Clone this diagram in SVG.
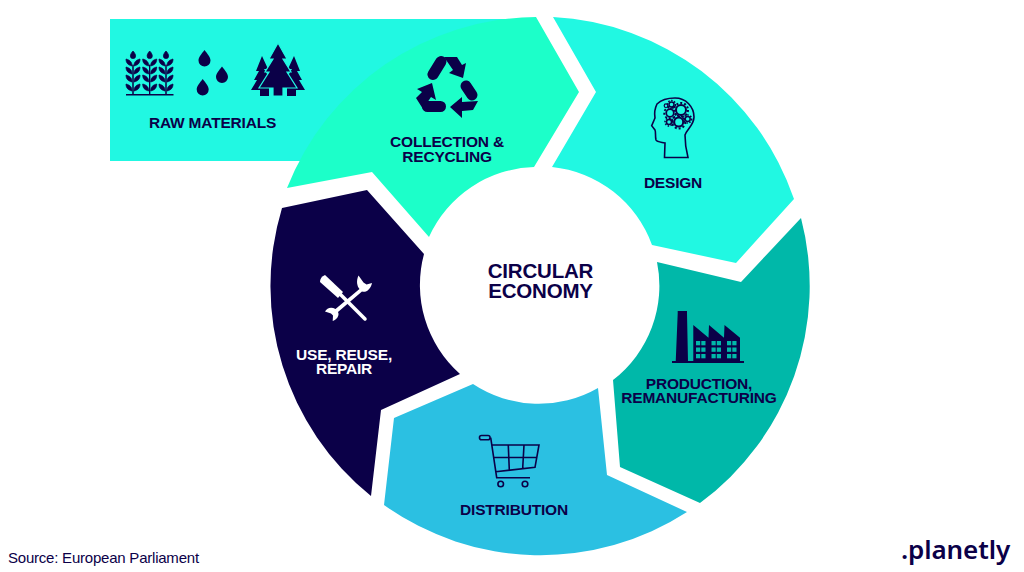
<svg xmlns="http://www.w3.org/2000/svg" xmlns:xlink="http://www.w3.org/1999/xlink" width="1024" height="572" viewBox="0 0 1024 572">
<style>
text{font-family:"Liberation Sans",Arial,sans-serif;font-weight:700;font-size:15.500px;fill:#0b0048;text-anchor:middle;letter-spacing:-.2px}
.w{fill:#fff}
.i{fill:#0b0048}
.l{fill:none;stroke:#0b0048;stroke-width:1.600}
</style>
<defs>
<g id="stalk" class="i" stroke="#0b0048" stroke-width=".7">
<path d="M0 0C2 2 2.600 4 2.600 5A2.600 2.600 0 0 1-2.600 5C-2.600 4 -2 2 0 0Z"/>
<path id="lf" d="M1 15C1 11 3 9 7 8C7 12 5 14 1 15Z"/>
<path d="M-1 15C-1 11-3 9-7 8C-7 12-5 14-1 15Z"/>
<use xlink:href="#lf" href="#lf" y="8"/><use xlink:href="#lf" href="#lf" y="16"/><use xlink:href="#lf" href="#lf" y="25"/>
<path d="M-1 23C-1 19-3 17-7 16C-7 20-5 22-1 23ZM-1 31C-1 27-3 25-7 24C-7 28-5 30-1 31ZM-1 40C-1 36-3 34-7 33C-7 37-5 39-1 40Z"/>
<rect x="-.3" y="14" width=".6" height="29"/>
</g>
<path id="drop" d="M0 0C3 4 6 7 6 10.500A6 6 0 0 1-6 10.500C-6 7-3 4 0 0Z"/>
<g id="window" fill="#00b8a9">
<rect x="0" y="0" width="4.200" height="4.300"/><rect x="5.300" y="0" width="4.200" height="4.300"/>
<rect x="0" y="6.500" width="4.200" height="4.300"/><rect x="5.300" y="6.500" width="4.200" height="4.300"/>
<rect x="0" y="13" width="4.200" height="4.300"/><rect x="5.300" y="13" width="4.200" height="4.300"/>
</g>
</defs>
<g id="raw-materials">
<rect x="110" y="19" width="400" height="142" fill="#21f8e2"/>
<use xlink:href="#stalk" href="#stalk" x="133" y="51"/>
<use xlink:href="#stalk" href="#stalk" x="149.700" y="51"/>
<use xlink:href="#stalk" href="#stalk" x="166" y="51"/>
<rect x="126" y="94" width="47.500" height="1.500" class="i"/>
<use xlink:href="#drop" href="#drop" x="204.500" y="50" class="i"/>
<use xlink:href="#drop" href="#drop" x="222" y="66.500" class="i"/>
<use xlink:href="#drop" href="#drop" x="202.700" y="79" class="i"/>
<path class="i" d="M262 56L268 69 264 69 270 79 266 87 269 87 269 96 260 96 260 90 251 90 257 80 254 80 259 71 256 71ZM294 56L300 71 297 71 302 80 299 80 305 90 296 90 296 96 287 96 287 87 290 87 286 79 292 69 288 69Z"/>
<path class="i" d="M278 43L287 59 283 59 291 72 287 72 297 88 283 88 283 96 273 96 273 88 259 88 269 72 265 72 273 59 269 59Z" stroke="#21f8e2" stroke-width="1.200"/>
<text x="212.500" y="128">RAW MATERIALS</text>
</g>
<g id="connectors"></g>
<g id="collection-recycling">
<path fill="#1cffc9" d="M287 188A269.500 269.500 0 0 1 536 17L579 92 534 167A119 119 0 0 0 429 237L372 172Z"/>
<path class="i" d="M444 57L457 57 462 65 466 63 463 78 449 73 453 70ZM478 101L473 110 462 111 462 118 450 107 462 97 462 102ZM416 98L423 109 431 97 436 100 432 83 417 89 422 92Z"/>
<path fill="none" stroke="#0b0048" stroke-width="11" stroke-linecap="round" d="M441 61.500L433 74.500M466 86L472 95M427.500 106.500L440.500 106.500"/>
<text><tspan x="447" y="147">COLLECTION &amp;</tspan><tspan x="447" y="161.500">RECYCLING</tspan></text>
</g>
<g id="design">
<path fill="#21f8e2" d="M553 17A269.500 269.500 0 0 1 794 199L736 263 652 245A119 119 0 0 0 552 167L596 92Z"/>
<path class="l" d="M664.500 157.500L665 143C660 142 657 142 656 140C655 136 656 132 655 130L651.700 125.700L655 118C654 112 655 108 657 104C661 100 668 98 675 98C686 98 694 107 694 117C694 125 687 129 685 135C685 142 686 150 688 157.500Z"/>
<g fill="none" stroke="#0b0048">
<circle cx="681" cy="110" r="5" stroke-width="2"/><circle cx="681" cy="110" r="7" stroke-width="2" stroke-dasharray="2 2"/>
<circle cx="670" cy="113" r="3.800" stroke-width="1.800"/><circle cx="670" cy="113" r="5.800" stroke-width="1.800" stroke-dasharray="2 2"/>
<circle cx="678.700" cy="122" r="4.500" stroke-width="2"/><circle cx="678.700" cy="122" r="6.500" stroke-width="2" stroke-dasharray="2 2"/>
<circle cx="671.500" cy="104.500" r="2.500" stroke-width="1.500"/><circle cx="671.500" cy="104.500" r="4" stroke-width="1.500" stroke-dasharray="1.500 1.500"/>
<circle cx="666" cy="105.700" r="1.800" stroke-width="1.200"/>
<circle cx="669" cy="122" r="2.500" stroke-width="1.500"/><circle cx="669" cy="122" r="4" stroke-width="1.500" stroke-dasharray="1.500 1.500"/>
<circle cx="687.700" cy="119" r="2.500" stroke-width="1.500"/><circle cx="687.700" cy="119" r="4" stroke-width="1.500" stroke-dasharray="1.500 1.500"/>
</g>
<text x="673" y="187.500">DESIGN</text>
</g>
<g id="production">
<path fill="#00b8a9" d="M801 218A269.500 269.500 0 0 1 700 503L620 467 613 380A119 119 0 0 0 657 262L741 282Z"/>
<path class="i" d="M677.700 311L687 311 687 313.500 688 361.700 675.700 361.700 677.700 313.500ZM672 361L744 361 744 363 672 363ZM693.300 325L708.500 337.700 709 325 724 337.700 724.500 325 740 337.700 740 361.700 693.300 361.700Z"/>
<use xlink:href="#window" href="#window" x="696" y="341"/>
<use xlink:href="#window" href="#window" x="711.500" y="341"/>
<use xlink:href="#window" href="#window" x="727" y="341"/>
<text><tspan x="699" y="389">PRODUCTION,</tspan><tspan x="699" y="403">REMANUFACTURING</tspan></text>
</g>
<g id="distribution">
<path fill="#2bc0e2" d="M687 512A269.500 269.500 0 0 1 384 505L394 418 473 384A119 119 0 0 0 598 388L607 475Z"/>
<rect x="479.500" y="435.500" width="10.500" height="4.300" rx="2" class="l"/>
<path class="l" d="M490.700 437.700L496.700 477.700 530 477.700M492 445L539 445 535 467.300 495.700 471.700M508.300 445.700L509.300 470M524 445L522.700 468.300M494 457.500L537.300 457.300"/>
<circle cx="500.700" cy="484" r="2.800" class="l"/>
<circle cx="525" cy="484" r="2.800" class="l"/>
<text x="514" y="515">DISTRIBUTION</text>
</g>
<g id="use-reuse-repair">
<path fill="#0b0048" d="M371 496A269.500 269.500 0 0 1 282 208L367 190 424 254A119 119 0 0 0 460 374L381 410Z"/>
<path fill="#fff" d="M358.500 275.500C356 281 357 286 359.500 289L335.500 309C331 306.500 327 308 325 311.500L331 313.500 333 315.500 332.700 321C336 320 340 316 338 312L362 291.500C366 293 371 289 372 283L366.500 284.500 363.500 282.500Z"/>
<path fill="#fff" d="M320 282Q320 277 325 275L343 292 338 298Z"/>
<path fill="none" stroke="#fff" stroke-width="3.500" stroke-linecap="round" d="M340 294L365 319"/>
<text class="w"><tspan x="344" y="360">USE, REUSE,</tspan><tspan x="344" y="374">REPAIR</tspan></text>
</g>
<g id="circular-economy">
<text style="font-size:20.500px"><tspan x="540.500" y="278">CIRCULAR</tspan><tspan x="540.500" y="298">ECONOMY</tspan></text>
</g>
<text id="source" x="8" y="563" style="font-weight:400;font-size:15px;text-anchor:start;letter-spacing:-.22px">Source: European Parliament</text>
<text id="logo" x="955.500" y="559" style="font-family:'Noto Sans','Open Sans',sans-serif;font-weight:600;font-size:26px;letter-spacing:-.1px">.planetly</text>
</svg>
